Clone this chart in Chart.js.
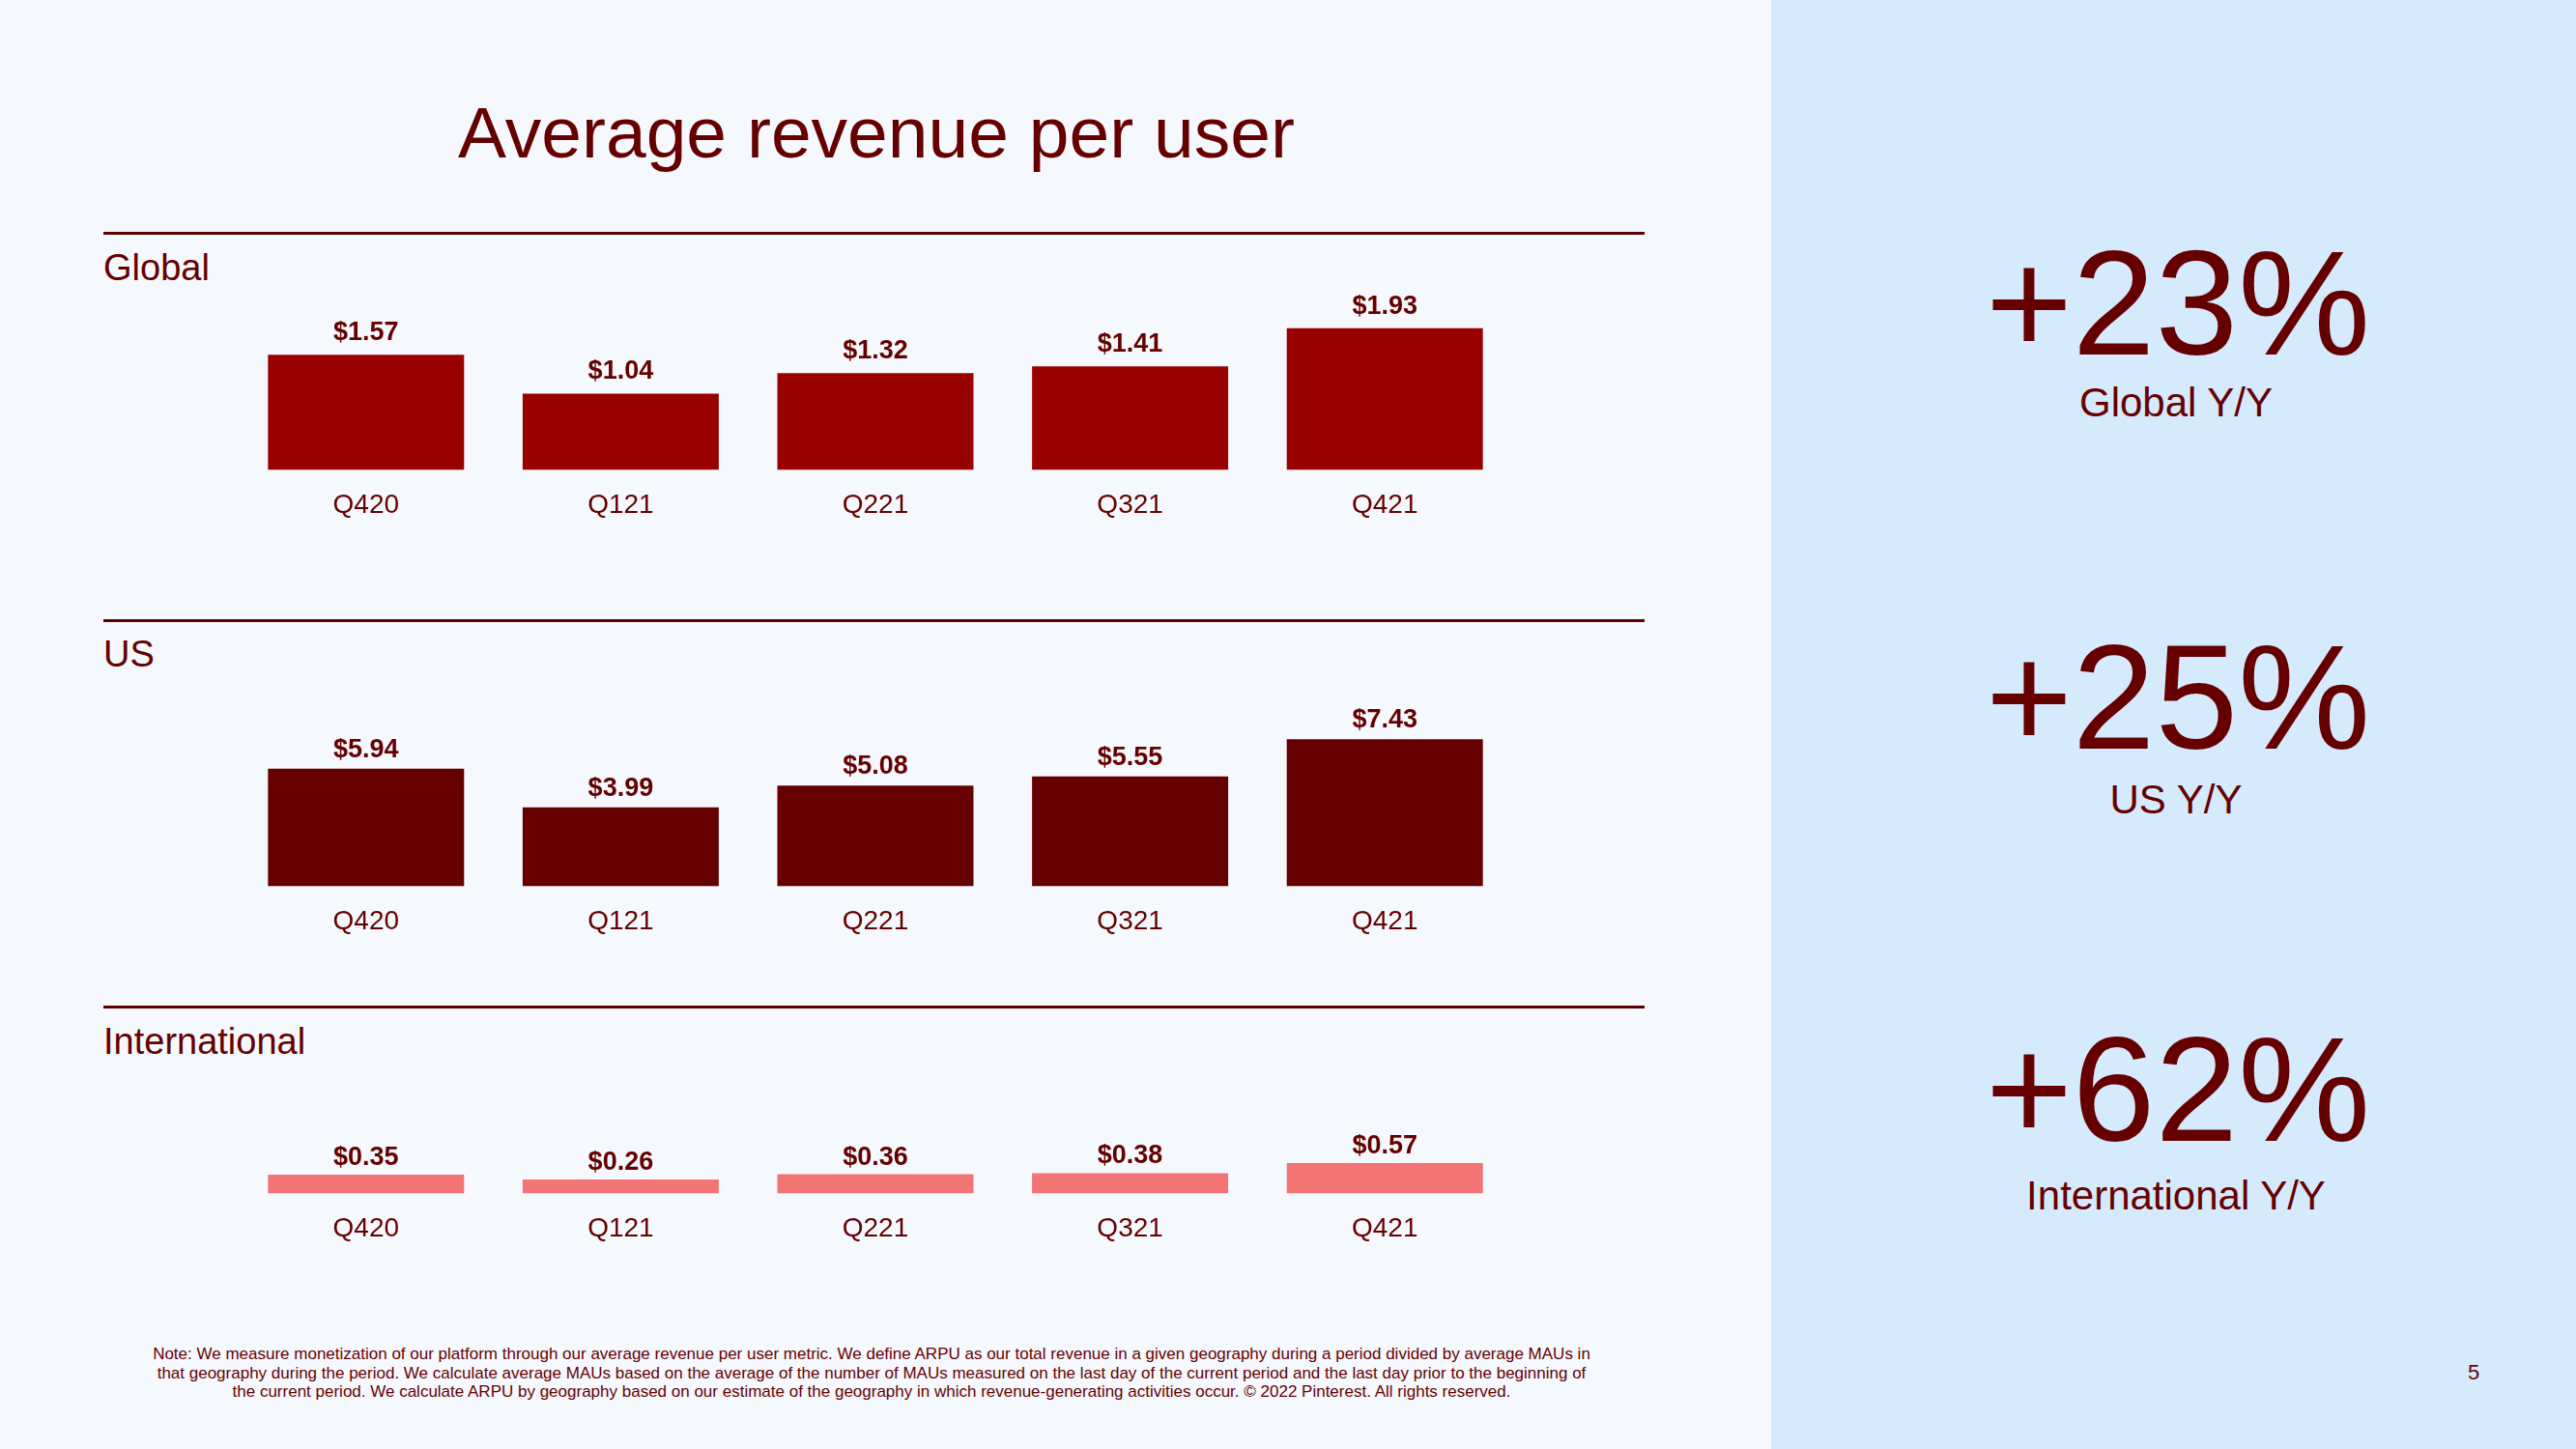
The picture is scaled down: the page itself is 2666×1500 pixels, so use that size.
<!DOCTYPE html>
<html><head><meta charset="utf-8">
<script src="https://cdn.jsdelivr.net/npm/chart.js@4/dist/chart.umd.min.js"></script>
<style>
html,body{margin:0;padding:0;}
body{width:2666px;height:1500px;position:relative;overflow:hidden;background:#f5f9fe;font-family:"Liberation Sans",Arial,sans-serif;color:#660000;}
#panel{position:absolute;left:1833px;top:0;width:833px;height:1500px;background:#d6eafd;}
.t{position:absolute;white-space:nowrap;line-height:1;}
.rule{position:absolute;left:107px;width:1595px;height:3px;background:#5e0000;}
canvas{position:absolute;left:0;}
.big{left:1833px;width:842px;text-align:center;font-size:154px;}
.sub{left:1833px;width:838px;text-align:center;font-size:42px;}
</style></head>
<body>
<div id="panel"></div>
<div class="t" style="left:0;width:1814px;text-align:center;top:99.5px;font-size:75px;">Average revenue per user</div>
<div class="rule" style="top:240px"></div>
<div class="rule" style="top:641px"></div>
<div class="rule" style="top:1041px"></div>
<div class="t" style="left:107px;top:258px;font-size:38px;">Global</div>
<div class="t" style="left:107px;top:658px;font-size:38px;">US</div>
<div class="t" style="left:107px;top:1059px;font-size:38px;">International</div>

<canvas id="cGlobal" width="1833" height="281" style="top:289px"></canvas>
<canvas id="cUS" width="1833" height="268" style="top:733px"></canvas>
<canvas id="cIntl" width="1833" height="194" style="top:1125px"></canvas>

<div class="t big" style="top:236.6px">+23%</div>
<div class="t sub" style="top:396px">Global Y/Y</div>
<div class="t big" style="top:644.6px">+25%</div>
<div class="t sub" style="top:806.5px">US Y/Y</div>
<div class="t big" style="top:1050.6px">+62%</div>
<div class="t sub" style="top:1216.5px">International Y/Y</div>

<div class="t" style="left:0;width:1804px;text-align:center;top:1392px;font-size:17px;line-height:19.5px;">Note: We measure monetization of our platform through our average revenue per user metric. We define ARPU as our total revenue in a given geography during a period divided by average MAUs in<br>that geography during the period. We calculate average MAUs based on the average of the number of MAUs measured on the last day of the current period and the last day prior to the beginning of<br>the current period. We calculate ARPU by geography based on our estimate of the geography in which revenue-generating activities occur. © 2022 Pinterest. All rights reserved.</div>
<div class="t" style="left:2540px;width:40px;text-align:center;top:1410px;font-size:22px;">5</div>

<script>
const categories = ['Q420', 'Q121', 'Q221', 'Q321', 'Q421'];
const globalArpu = [1.57, 1.04, 1.32, 1.41, 1.93];
const usArpu = [5.94, 3.99, 5.08, 5.55, 7.43];
const intlArpu = [0.35, 0.26, 0.36, 0.38, 0.57];

const valueLabels = {
  id: 'valueLabels',
  afterDatasetsDraw(chart, args, opts) {
    const ctx = chart.ctx;
    const meta = chart.getDatasetMeta(0);
    const vals = chart.data.datasets[0].data;
    ctx.save();
    ctx.font = 'bold 27px "Liberation Sans", Arial, sans-serif';
    ctx.fillStyle = '#660000';
    ctx.textAlign = 'center';
    ctx.textBaseline = 'alphabetic';
    meta.data.forEach((bar, i) => {
      ctx.fillText('$' + vals[i].toFixed(2), bar.x, bar.y - opts.gap);
    });
    ctx.restore();
  }
};

function makeChart(id, values, color, ymax, gap) {
  return new Chart(document.getElementById(id), {
    type: 'bar',
    data: {
      labels: categories,
      datasets: [{
        data: values,
        backgroundColor: color,
        borderWidth: 0,
        barPercentage: 0.77,
        categoryPercentage: 1.0
      }]
    },
    options: {
      responsive: false,
      maintainAspectRatio: false,
      animation: false,
      layout: { padding: { left: 247, right: 268, top: 0, bottom: 10 } },
      plugins: {
        legend: { display: false },
        tooltip: { enabled: false },
        valueLabels: { gap: gap }
      },
      scales: {
        x: {
          grid: { display: false, drawTicks: false },
          border: { display: false },
          ticks: {
            color: '#660000',
            padding: 20,
            font: { family: '"Liberation Sans", Arial, sans-serif', size: 28, lineHeight: 1.2 }
          }
        },
        y: { display: false, min: 0, max: ymax }
      }
    },
    plugins: [valueLabels]
  });
}

makeChart('cGlobal', globalArpu, '#990000', 2.6, 15);
makeChart('cUS', usArpu, '#660000', 9, 12);
makeChart('cIntl', intlArpu, '#f27474', 2, 10);
</script>
</body></html>
